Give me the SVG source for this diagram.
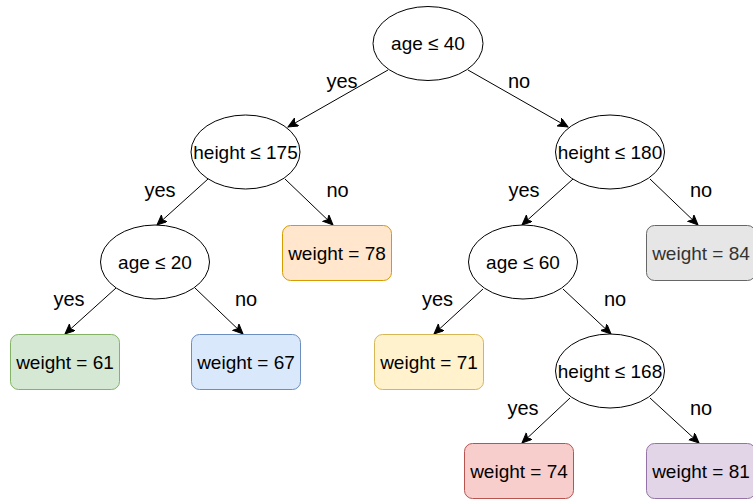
<svg xmlns="http://www.w3.org/2000/svg" width="753" height="500" viewBox="0 0 753 500">
  <style>
    .split { fill: #ffffff; stroke: #000000; stroke-width: 1; }
    .leaf { stroke-width: 1; }
    .txt { font-family: "Liberation Sans", Arial, Helvetica, sans-serif; font-size: 19px; fill: #000000; text-anchor: middle; }
    .lbl { font-family: "Liberation Sans", Arial, Helvetica, sans-serif; font-size: 20px; fill: #000000; text-anchor: middle; }
    .edge { fill: none; stroke: #000000; stroke-width: 1; marker-end: url(#arrow); }
  </style>
  <defs>
    <marker id="arrow" markerUnits="userSpaceOnUse" markerWidth="12" markerHeight="10" refX="10" refY="4.5" orient="auto">
      <path d="M0,0 L10,4.5 L0,9 L2.5,4.5 Z" fill="#000000" stroke="#000000" stroke-width="1" stroke-linejoin="miter"/>
    </marker>
  </defs>

  <rect width="753" height="500" fill="#ffffff"/>

  <!-- connectors with branch labels -->
  <g id="edges">
    <path class="edge" d="M388,70 L288,127"/>
    <path class="edge" d="M468,70 L568,127"/>
    <path class="edge" d="M208,179 L157,225"/>
    <path class="edge" d="M285,179 L333,225"/>
    <path class="edge" d="M573,179 L522,225"/>
    <path class="edge" d="M650,179 L698,225"/>
    <path class="edge" d="M116,288 L65,334"/>
    <path class="edge" d="M195,288 L243,334"/>
    <path class="edge" d="M483,289 L434,334"/>
    <path class="edge" d="M563,289 L611,334"/>
    <path class="edge" d="M570,398 L522,443"/>
    <path class="edge" d="M650,398 L699,443"/>

    <text class="lbl" x="342" y="88">yes</text>
    <text class="lbl" x="519" y="88">no</text>
    <text class="lbl" x="160" y="197">yes</text>
    <text class="lbl" x="337.5" y="197">no</text>
    <text class="lbl" x="524" y="197">yes</text>
    <text class="lbl" x="701" y="197">no</text>
    <text class="lbl" x="69" y="306">yes</text>
    <text class="lbl" x="246" y="306">no</text>
    <text class="lbl" x="437.5" y="306">yes</text>
    <text class="lbl" x="615" y="306">no</text>
    <text class="lbl" x="523" y="415">yes</text>
    <text class="lbl" x="701" y="415">no</text>
  </g>

  <!-- split nodes -->
  <g id="n-age40">
    <ellipse class="split" cx="428" cy="43.5" rx="55" ry="37"/>
    <text class="txt" x="428" y="50">age ≤ 40</text>
  </g>
  <g id="n-height175">
    <ellipse class="split" cx="245.5" cy="152" rx="54.5" ry="37"/>
    <text class="txt" x="245.5" y="158.5">height ≤ 175</text>
  </g>
  <g id="n-height180">
    <ellipse class="split" cx="610" cy="152" rx="54.5" ry="37"/>
    <text class="txt" x="610" y="158.5">height ≤ 180</text>
  </g>
  <g id="n-age20">
    <ellipse class="split" cx="155" cy="262" rx="54.5" ry="37"/>
    <text class="txt" x="155" y="268.5">age ≤ 20</text>
  </g>
  <g id="n-age60">
    <ellipse class="split" cx="523" cy="262" rx="54.5" ry="37"/>
    <text class="txt" x="523" y="268.5">age ≤ 60</text>
  </g>
  <g id="n-height168">
    <ellipse class="split" cx="610" cy="371" rx="54.5" ry="37"/>
    <text class="txt" x="610" y="377.5">height ≤ 168</text>
  </g>

  <!-- leaf nodes -->
  <g id="leaf-78">
    <rect class="leaf" x="282.5" y="225.5" width="109" height="55" rx="8" fill="#ffe6cc" stroke="#d79b00"/>
    <text class="txt" x="337" y="259.5">weight = 78</text>
  </g>
  <g id="leaf-84">
    <rect class="leaf" x="646.5" y="225.5" width="109" height="55" rx="8" fill="#e6e6e6" stroke="#666666"/>
    <text class="txt" x="701" y="259.5" style="fill:#333333">weight = 84</text>
  </g>
  <g id="leaf-61">
    <rect class="leaf" x="10.5" y="334.5" width="109" height="55" rx="8" fill="#d5e8d4" stroke="#82b366"/>
    <text class="txt" x="65" y="368.5">weight = 61</text>
  </g>
  <g id="leaf-67">
    <rect class="leaf" x="191.5" y="334.5" width="109" height="55" rx="8" fill="#dae8fc" stroke="#6c8ebf"/>
    <text class="txt" x="246" y="368.5">weight = 67</text>
  </g>
  <g id="leaf-71">
    <rect class="leaf" x="374.5" y="334.5" width="109" height="55" rx="8" fill="#fff2cc" stroke="#d6b656"/>
    <text class="txt" x="429" y="368.5">weight = 71</text>
  </g>
  <g id="leaf-74">
    <rect class="leaf" x="464.5" y="443.5" width="109" height="55" rx="8" fill="#f8cecc" stroke="#b85450"/>
    <text class="txt" x="519" y="477.5">weight = 74</text>
  </g>
  <g id="leaf-81">
    <rect class="leaf" x="646.5" y="443.5" width="109" height="55" rx="8" fill="#e1d5e7" stroke="#9673a6"/>
    <text class="txt" x="701" y="477.5">weight = 81</text>
  </g>
</svg>
